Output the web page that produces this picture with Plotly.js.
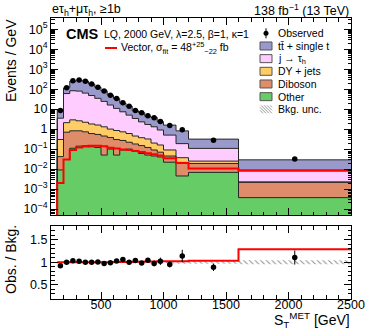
<!DOCTYPE html>
<html>
<head>
<meta charset="utf-8">
<script src="https://cdn.plot.ly/plotly-3.0.1.min.js"></script>
<style>
  html, body { margin: 0; padding: 0; background: #fff; }
  #chart { width: 366px; height: 331px; }
</style>
</head>
<body>
<div id="chart"></div>
<script>
// bin edges in GeV, last bins are wider
const binEdges = [150, 200, 250, 300, 350, 400, 450, 500, 550, 600, 650, 700, 750, 800, 850, 900, 950, 1000, 1100, 1200, 1600, 2500];

// background yields, events / GeV (stack order bottom -> top)
const otherBkg = [0.009, 0.03, 0.11, 0.14, 0.145, 0.13, 0.12, 0.05, 0.1, 0.05, 0.09, 0.1, 0.085, 0.06, 0.05, 0.045, 0.04, 0.022, 0.0045, 0.0068, 0.00037];
const dibosonBkg = [0.033, 0.67, 0.71, 0.68, 0.585, 0.47, 0.42, 0.4, 0.28, 0.25, 0.18, 0.12, 0.095, 0.09, 0.07, 0.045, 0.03, 0.023, 0.017, 0.0122, 0.0018];
const dyBkg = [0.26, 1.4, 2.08, 1.78, 1.47, 1.2, 1.06, 0.85, 0.62, 0.55, 0.46, 0.38, 0.27, 0.22, 0.2, 0.11, 0.09, 0.045, 0.0155, 0.006, 0.0001];
const jetFakeBkg = [3.2, 58, 80, 77, 61, 46, 33, 23, 15, 10, 6.6, 4.4, 2.95, 1.93, 1.38, 1.1, 0.74, 0.41, 0.15, 0.083, 0.0066];
const ttBkg = [5.7, 56, 169, 204, 187, 132, 90, 58, 34.5, 22.2, 12.5, 9, 4.9, 4.3, 2.7, 2.5, 1.45, 1.08, 0.63, 0.207, 0.0201];

// vector LQ signal
const signalVector = [0.002, 0.03, 0.09, 0.12, 0.135, 0.145, 0.145, 0.14, 0.115, 0.108, 0.095, 0.09, 0.08, 0.072, 0.062, 0.055, 0.048, 0.035, 0.02, 0.0105, 0.0083];

// data
const observed = [8.5, 116, 260, 290, 250, 180, 125, 80, 50, 34, 21, 14, 8.6, 6.5, 4.6, 3.7, 2.4, 1.5, 0.93, 0.28, 0.032];
const observedRelErr = [0.03, 0.01, 0.01, 0.01, 0.01, 0.01, 0.012, 0.014, 0.016, 0.02, 0.022, 0.025, 0.03, 0.035, 0.04, 0.065, 0.08, 0.065, 0.12, 0.09, 0.14];
const bkgRelUnc = [0.02, 0.012, 0.01, 0.01, 0.01, 0.01, 0.01, 0.012, 0.012, 0.014, 0.015, 0.016, 0.018, 0.02, 0.022, 0.024, 0.026, 0.03, 0.032, 0.034, 0.045];

// axis labels
const logTickVals = [1e-4, 1e-3, 1e-2, 1e-1, 1, 10, 1e2, 1e3, 1e4, 1e5];
const logTickText = ["10<sup>−4</sup>", "10<sup>−3</sup>", "10<sup>−2</sup>", "10<sup>−1</sup>", "1", "10", "10<sup>2</sup>", "10<sup>3</sup>", "10<sup>4</sup>", "10<sup>5</sup>"];
const ratioTickVals = [0.5, 1, 1.5];
const ratioTickText = ["0.5", "1", "1.5"];

const FONT = "Liberation Sans, Arial, Helvetica, sans-serif";
const W = 366, H = 331;
const px = (v) => v / W;
const py = (v) => 1 - v / H;

const backgrounds = [
  { name: "Other", values: otherBkg, color: "#66cc66" },
  { name: "Diboson", values: dibosonBkg, color: "#de8c6a" },
  { name: "DY + jets", values: dyBkg, color: "#ffcc66" },
  { name: "j → τ<sub>h</sub>", values: jetFakeBkg, color: "#ffccff" },
  { name: "tt̄ + single t", values: ttBkg, color: "#9999cc" },
];

const nBins = binEdges.length - 1;
const centers = [];
const widths = [];
for (let i = 0; i < nBins; i += 1) {
  centers.push((binEdges[i] + binEdges[i + 1]) / 2);
  widths.push(binEdges[i + 1] - binEdges[i]);
}

// histogram outline as an hv step; startLow draws the rising edge at the first bin
function stepXY(vals, startLow) {
  const x = [];
  const y = [];
  if (startLow) { x.push(binEdges[0]); y.push(1e-9); }
  vals.forEach((v, i) => { x.push(binEdges[i]); y.push(v); });
  x.push(binEdges[nBins]); y.push(vals[nBins - 1]);
  return { x, y };
}

const traces = [];
const outlines = [];
let total = new Array(nBins).fill(0);
backgrounds.forEach((bg) => {
  traces.push({
    type: "bar", x: centers, y: bg.values, width: widths,
    marker: { color: bg.color, line: { width: 0 } },
    xaxis: "x", yaxis: "y", hoverinfo: "skip", showlegend: false,
  });
  total = total.map((t, i) => t + bg.values[i]);
  const s = stepXY(total, true);
  outlines.push({
    type: "scatter", mode: "lines", x: s.x, y: s.y,
    line: { shape: "hv", color: "#262626", width: 1 },
    xaxis: "x", yaxis: "y", hoverinfo: "skip", showlegend: false,
  });
});
traces.push(...outlines);

const sig = stepXY(signalVector, true);
traces.push({
  type: "scatter", mode: "lines", x: sig.x, y: sig.y,
  line: { shape: "hv", color: "#ff0000", width: 2 },
  xaxis: "x", yaxis: "y", hoverinfo: "skip", showlegend: false,
});

traces.push({
  type: "scatter", mode: "markers", x: centers, y: observed,
  marker: { color: "#000", size: 5.5 },
  error_y: { type: "data", array: observed.map((v, i) => v * observedRelErr[i]), color: "#000", thickness: 1, width: 0 },
  xaxis: "x", yaxis: "y", hoverinfo: "skip", showlegend: false,
});

// ratio panel
const uncLow = stepXY(bkgRelUnc.map((u) => 1 - u), false);
const uncHigh = stepXY(bkgRelUnc.map((u) => 1 + u), false);
traces.push({
  type: "scatter", mode: "lines", x: uncLow.x, y: uncLow.y,
  line: { shape: "hv", width: 0 }, xaxis: "x2", yaxis: "y2",
  hoverinfo: "skip", showlegend: false,
});
traces.push({
  type: "scatter", mode: "lines", x: uncHigh.x, y: uncHigh.y,
  line: { shape: "hv", width: 0 }, fill: "tonexty", fillcolor: "rgba(0,0,0,0)",
  fillpattern: { shape: "\\", fgcolor: "#8c8c8c", bgcolor: "rgba(0,0,0,0)", size: 4, solidity: 0.25 },
  xaxis: "x2", yaxis: "y2", hoverinfo: "skip", showlegend: false,
});

const sigRatio = stepXY(signalVector.map((s, i) => 1 + s / total[i]), false);
traces.push({
  type: "scatter", mode: "lines", x: sigRatio.x, y: sigRatio.y,
  line: { shape: "hv", color: "#ff0000", width: 2 },
  xaxis: "x2", yaxis: "y2", hoverinfo: "skip", showlegend: false,
});

const ratio = observed.map((o, i) => o / total[i]);
traces.push({
  type: "scatter", mode: "markers", x: centers, y: ratio,
  marker: { color: "#000", size: 5.5 },
  error_y: { type: "data", array: ratio.map((r, i) => r * observedRelErr[i]), color: "#000", thickness: 1, width: 0 },
  xaxis: "x2", yaxis: "y2", hoverinfo: "skip", showlegend: false,
});

// minor ticks on the log axis
const logMinor = [];
for (let e = -5; e <= 5; e += 1) {
  for (let m = 2; m <= 9; m += 1) logMinor.push(m * Math.pow(10, e));
}

const axisCommon = {
  showline: true, linecolor: "#000", linewidth: 1, mirror: "allticks",
  ticks: "inside", tickcolor: "#000", tickwidth: 1, showgrid: false, zeroline: false,
  tickfont: { family: FONT, size: 12.5, color: "#000" },
};
const xDomain = [px(51), px(351)];

// hand-built legend (ROOT style, tight spacing)
const annotations = [];
const shapes = [];
const txt = (text, x, y, size, xanchor, extra) => annotations.push(Object.assign({
  text, x: px(x), y: py(y), xref: "paper", yref: "paper", xanchor, yanchor: "middle",
  showarrow: false, font: { family: FONT, size, color: "#000" },
}, extra || {}));

txt("eτ<sub>h</sub>+μτ<sub>h</sub>, ≥1b", 50, 10, 12.5, "left");
txt("138 fb<sup>−1</sup> (13 TeV)", 351, 10, 12.5, "right");
txt("<b>CMS</b>", 64, 34, 14.5, "left");
txt("LQ, 2000 GeV, λ=2.5, β=1, κ=1", 102, 33.5, 10.5, "left");
txt("Vector, σ<sub>fit</sub> = 48<sup>+25</sup><sub>−22</sub> fb", 119, 48, 10.5, "left");
shapes.push({ type: "line", xref: "paper", yref: "paper", x0: px(105), x1: px(117), y0: py(48), y1: py(48), line: { color: "#ff0000", width: 2 } });

txt("Events / GeV", 11, 61, 14, "center", { textangle: -90 });
txt("Obs. / Bkg.", 11, 260, 14, "center", { textangle: -90 });
txt("S<sub>T</sub><sup>MET</sup> [GeV]", 352, 320, 14, "right");

const legX0 = 260, legX1 = 272, legText = 276, legY0 = 33.3, legDy = 12.67;
txt("Observed", legText, legY0, 10.5, "left");
shapes.push({ type: "circle", xref: "paper", yref: "paper", x0: px(263.5), x1: px(268.5), y0: py(legY0 - 2.5), y1: py(legY0 + 2.5), fillcolor: "#000", line: { width: 0 } });
shapes.push({ type: "line", xref: "paper", yref: "paper", x0: px(266), x1: px(266), y0: py(legY0 - 5), y1: py(legY0 + 5), line: { color: "#000", width: 1 } });
backgrounds.slice().reverse().forEach((bg, k) => {
  const yc = legY0 + legDy * (k + 1);
  txt(bg.name, legText, yc, 10.5, "left");
  shapes.push({ type: "rect", xref: "paper", yref: "paper", x0: px(legX0), x1: px(legX1), y0: py(yc + 4), y1: py(yc - 4), fillcolor: bg.color, line: { color: "#555", width: 1 } });
});
const uncY = legY0 + legDy * 6;
txt("Bkg. unc.", legText, uncY, 10.5, "left");
for (let k = -8; k <= 12; k += 3) {
  const xa = legX0 + k, xb = legX0 + k + 8;
  const ca = Math.max(xa, legX0), cb = Math.min(xb, legX1);
  if (cb <= ca) continue;
  shapes.push({
    type: "line", xref: "paper", yref: "paper",
    x0: px(ca), y0: py(uncY - 4 + (ca - xa)), x1: px(cb), y1: py(uncY - 4 + (cb - xa)),
    line: { color: "#9a9a9a", width: 1 },
  });
}

const layout = {
  width: W, height: H, autosize: false,
  margin: { l: 0, r: 0, t: 0, b: 0 },
  paper_bgcolor: "#fff", plot_bgcolor: "#fff",
  barmode: "stack", bargap: 0, showlegend: false,
  font: { family: FONT, color: "#000" },
  xaxis: Object.assign({}, axisCommon, {
    domain: xDomain, anchor: "y", range: [100, 2500],
    tickmode: "linear", tick0: 0, dtick: 500, ticklen: 7, showticklabels: false,
    minor: { ticks: "inside", ticklen: 3.5, tick0: 0, dtick: 100, tickcolor: "#000" },
  }),
  yaxis: Object.assign({}, axisCommon, {
    domain: [py(215), py(18)], anchor: "x", type: "log", range: [-4.3, 5.56],
    tickmode: "array", tickvals: logTickVals, ticktext: logTickText, ticklen: 7,
    minor: { ticks: "inside", ticklen: 3.5, tickmode: "array", tickvals: logMinor, tickcolor: "#000" },
  }),
  xaxis2: Object.assign({}, axisCommon, {
    domain: xDomain, anchor: "y2", range: [100, 2500],
    tickmode: "linear", tick0: 0, dtick: 500, ticklen: 7, ticklabelstandoff: -6,
    minor: { ticks: "inside", ticklen: 3.5, tick0: 0, dtick: 100, tickcolor: "#000" },
  }),
  yaxis2: Object.assign({}, axisCommon, {
    domain: [py(298.5), py(226)], anchor: "x2", range: [0.2, 1.8],
    tickmode: "array", tickvals: ratioTickVals, ticktext: ratioTickText, ticklen: 7,
    minor: { ticks: "inside", ticklen: 3.5, tick0: 0, dtick: 0.1, tickcolor: "#000" },
  }),
  annotations, shapes,
};

Plotly.newPlot("chart", traces, layout, { staticPlot: true, displayModeBar: false });
</script>
</body>
</html>
